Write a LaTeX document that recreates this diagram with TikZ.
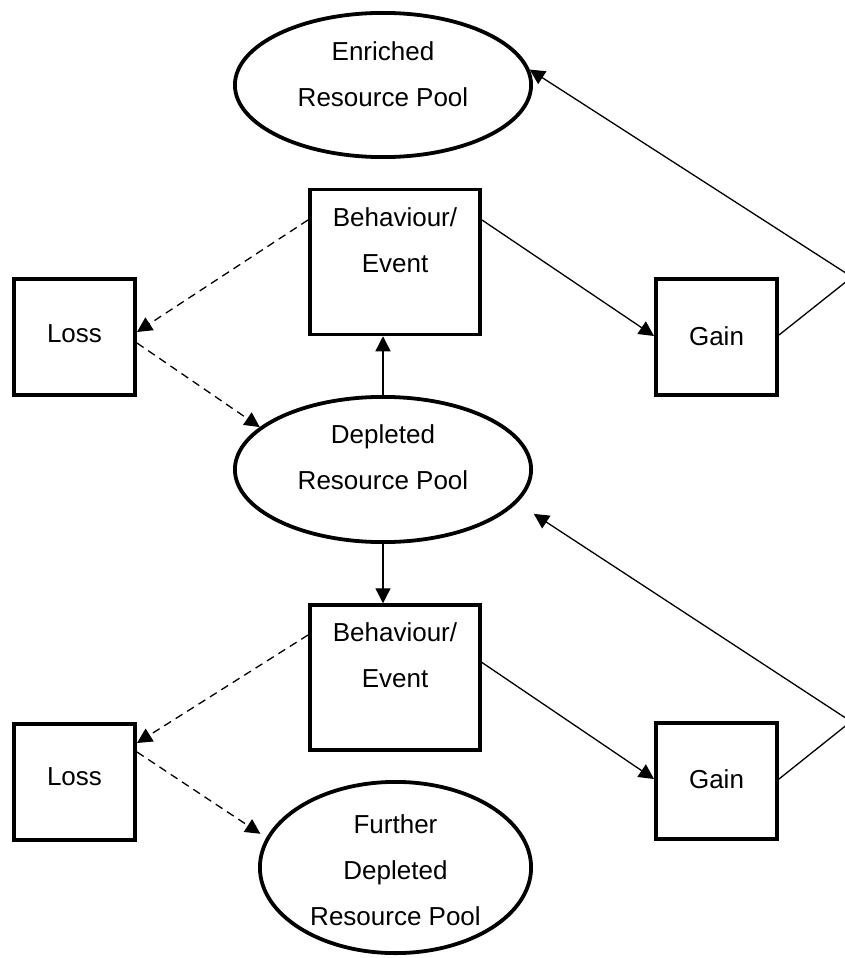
\documentclass[tikz,border=0pt]{standalone}
\usepackage{fontspec}
\setmainfont{Liberation Sans}
\usetikzlibrary{arrows.meta,shapes.geometric}
\begin{document}
\begin{tikzpicture}[x=1pt,y=-1pt,
  txt/.style={font=\fontsize{26}{46}\selectfont, align=center, inner sep=0pt},
  boxnode/.style={draw, line width=3.6pt, rectangle, inner sep=0pt, minimum width=121.4pt, minimum height=116.4pt},
  bignode/.style={draw, line width=3.6pt, rectangle, inner sep=0pt, minimum width=170.4pt, minimum height=144.9pt},
  pool/.style={draw, line width=3.8pt, ellipse, inner sep=0pt},
  conn/.style={line width=1.3pt, -{Triangle[length=15pt,width=15pt]}},
  lossconn/.style={conn, dash pattern=on 8pt off 5.5pt},
]
\useasboundingbox (0,0) rectangle (844,958);

\node[pool, minimum width=296.2pt, minimum height=144.2pt,
  label={[txt,yshift=10.5pt]center:Enriched\\Resource Pool}] (enr) at (383,85) {};
\node[bignode, label={[txt,yshift=22pt]center:Behaviour/\\Event}] (beh1) at (395,262) {};
\node[boxnode, label={[txt,yshift=3.7pt]center:Loss}] (loss1) at (74.5,337) {};
\node[boxnode, label={[txt,yshift=1pt]center:Gain}] (gain1) at (716.5,337) {};
\node[pool, minimum width=296.2pt, minimum height=145.2pt,
  label={[txt,yshift=12pt]center:Depleted\\Resource Pool}] (dep) at (383,469.5) {};
\node[bignode, label={[txt,yshift=22.5pt]center:Behaviour/\\Event}] (beh2) at (395,677.5) {};
\node[boxnode, label={[txt,yshift=5.3pt]center:Loss}] (loss2) at (74.5,782) {};
\node[boxnode, label={[txt,yshift=1.6pt]center:Gain}] (gain2) at (716.5,781) {};
\node[pool, minimum width=271.2pt, minimum height=171.2pt,
  label={[txt,yshift=-3pt]center:Further\\Depleted\\Resource Pool}] (fur) at (395.5,867.5) {};
\coordinate (c1) at (852,277);
\coordinate (c2) at (851,721.5);

\draw[conn] (dep.north) -- (dep.north |- beh1.south);
\draw[conn] (dep.south) -- (dep.south |- beh2.north);
\draw[lossconn] ([yshift=42pt]beh1.west) -- ([yshift=5pt]loss1.east);
\draw[lossconn] ([yshift=-6pt]loss1.east) -- (dep.161);
\draw[conn] ([yshift=42pt]beh1.east) -- ([yshift=1pt]gain1.west);
\draw[conn] ([yshift=2pt]gain1.east) -- (c1) -- (enr.6);
\draw[lossconn] ([yshift=42.5pt]beh2.west) -- ([yshift=39pt]loss2.east);
\draw[lossconn, shorten >=7pt] ([yshift=30pt]loss2.east) -- (fur.167);
\draw[conn] ([yshift=15pt]beh2.east) -- ([yshift=2pt]gain2.west);
\draw[conn, shorten >=20pt] ([yshift=2pt]gain2.east) -- (c2) -- (dep.-14);
\end{tikzpicture}
\end{document}
